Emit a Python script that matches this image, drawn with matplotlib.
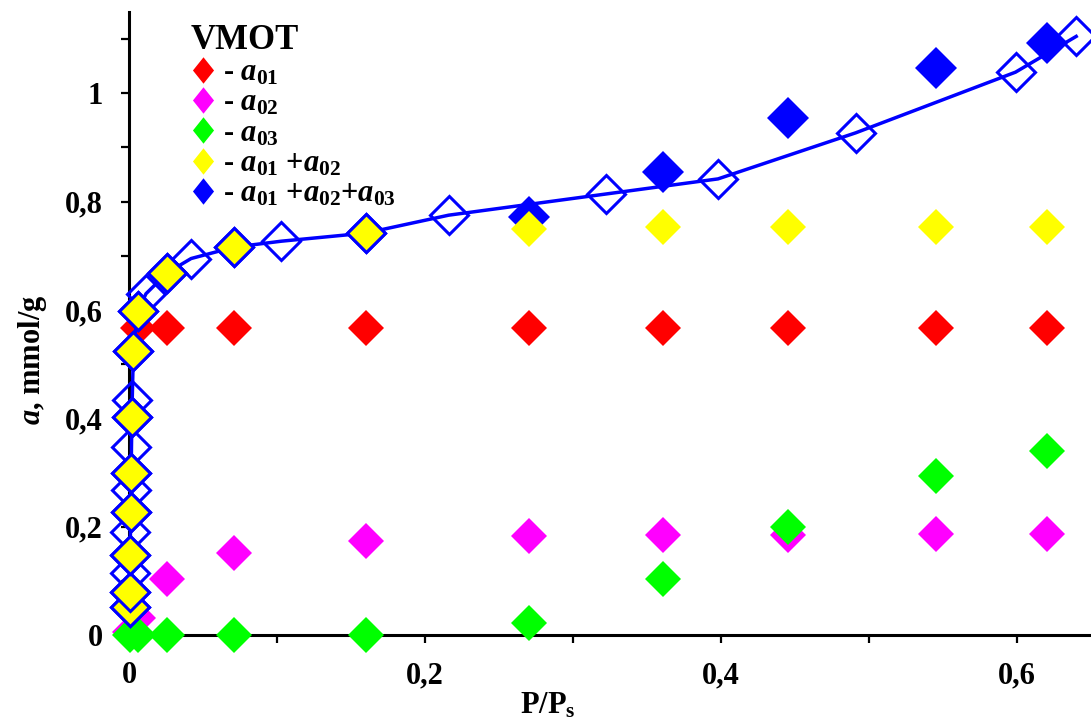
import numpy as np
import matplotlib.pyplot as plt
from matplotlib.lines import Line2D
from matplotlib.ticker import MultipleLocator, FuncFormatter

plt.rcParams['font.family'] = ['Liberation Serif', 'DejaVu Serif']
plt.rcParams['font.weight'] = 'bold'
plt.rcParams['axes.labelweight'] = 'bold'
plt.rcParams['mathtext.fontset'] = 'custom'
plt.rcParams['mathtext.rm'] = 'Liberation Serif:bold'
plt.rcParams['mathtext.it'] = 'Liberation Serif:italic:bold'
plt.rcParams['mathtext.bf'] = 'Liberation Serif:bold'

# relative pressure and adsorption values (mmol/g)
x_calc = [0.006, 0.026, 0.071, 0.160, 0.270, 0.361, 0.445, 0.545, 0.620]
a01 = [0.566, 0.566, 0.566, 0.566, 0.566, 0.566, 0.566, 0.566, 0.566]

x_a02 = [0.001, 0.006, 0.026, 0.071, 0.160, 0.270, 0.361, 0.445, 0.545, 0.620]
a02 = [0.005, 0.031, 0.103, 0.151, 0.173, 0.183, 0.184, 0.185, 0.187, 0.186]

x_a03 = [0.001, 0.006, 0.026, 0.071, 0.160, 0.270, 0.361, 0.445, 0.545, 0.620]
a03 = [0.0, 0.0, 0.0, 0.0, 0.0, 0.022, 0.103, 0.200, 0.293, 0.340]

x_sum12 = [0.0005, 0.0007, 0.001, 0.0012, 0.0015, 0.002, 0.003,
           0.006, 0.026, 0.071, 0.160, 0.270, 0.361, 0.445, 0.545, 0.620]
a_sum12 = [0.052, 0.080, 0.148, 0.227, 0.300, 0.403, 0.524,
           0.598, 0.669, 0.716, 0.742, 0.749, 0.753, 0.753, 0.753, 0.753]

x_sum123 = [0.270, 0.361, 0.445, 0.545, 0.620]
a_sum123 = [0.772, 0.855, 0.954, 1.047, 1.092]

# experimental isotherm
x_exp = [0.0005, 0.0006, 0.0007, 0.0008, 0.001, 0.0012, 0.0013, 0.0015,
         0.0017, 0.002, 0.0022, 0.003, 0.006, 0.0115, 0.026, 0.042, 0.071,
         0.103, 0.160, 0.216, 0.322, 0.398, 0.491, 0.599, 0.640]
a_exp = [0.052, 0.080, 0.114, 0.148, 0.190, 0.227, 0.268, 0.300, 0.347,
         0.403, 0.434, 0.524, 0.598, 0.630, 0.669, 0.695, 0.716, 0.727,
         0.742, 0.775, 0.814, 0.842, 0.927, 1.039, 1.105]

blue = '#0000ff'
red = '#ff0000'
magenta = '#ff00ff'
green = '#00ff00'
yellow = '#ffff00'

fig = plt.figure(figsize=(10.91, 7.25), dpi=100)
ax = fig.add_axes([0.1182, 0.1241, 0.8818, 0.8593])

ax.plot(x_sum123, a_sum123, 'D', color=blue, ms=21.5, mew=0, clip_on=False, zorder=3)
ax.plot(x_calc, a01, 'D', color=red, ms=18, mew=0, clip_on=False, zorder=4)
ax.plot(x_a02, a02, 'D', color=magenta, ms=18, mew=0, clip_on=False, zorder=5)
ax.plot(x_a03, a03, 'D', color=green, ms=18, mew=0, clip_on=False, zorder=6)

xs = np.array(x_sum12)
ys = np.array(a_sum12)
near = xs < 0.2
ax.plot(xs[~near], ys[~near], 'D', color=yellow, ms=18, mew=0, clip_on=False, zorder=7)

ax.plot(x_exp, a_exp, '-', color=blue, lw=2.5, clip_on=False, zorder=8)
ax.plot(x_exp, a_exp, 'D', mfc='none', mec=blue, ms=19.5, mew=2.2,
        clip_on=False, zorder=8)
# calculated a01+a02 points lying on the isotherm
ax.plot(xs[near], ys[near], 'D', mfc=yellow, mec=blue, ms=19.5, mew=2.2,
        clip_on=False, zorder=9)

ax.set_xlim(0, 0.65)
ax.set_ylim(0, 1.15)

for side in ['top', 'right']:
    ax.spines[side].set_visible(False)
for side in ['left', 'bottom']:
    ax.spines[side].set_linewidth(2.2)
    ax.spines[side].set_zorder(2)

ax.xaxis.set_major_locator(MultipleLocator(0.2))
ax.xaxis.set_minor_locator(MultipleLocator(0.1))
ax.yaxis.set_major_locator(MultipleLocator(0.2))
ax.yaxis.set_minor_locator(MultipleLocator(0.1))
fmt = FuncFormatter(lambda v, p: ('%g' % round(v, 2)).replace('.', ','))
ax.xaxis.set_major_formatter(fmt)
ax.yaxis.set_major_formatter(fmt)
ax.tick_params(which='both', direction='out', length=6, width=1.6,
               labelsize=22, pad=13)

ax.set_xlabel(r'P/P$_\mathrm{s}$', fontsize=22)
ax.set_ylabel(r'$a$, mmol/g', fontsize=22)
ax.xaxis.set_label_coords(0.4356, -0.09)
ax.yaxis.set_label_coords(-0.083, 0.441)

# legend
diamond = [(0, 1), (0.8, 0), (0, -1), (-0.8, 0), (0, 1)]
handles = [Line2D([], [], ls='none', marker=diamond, ms=19, mew=0, color=c)
           for c in [red, magenta, green, yellow, blue]]
labels = [r'- $a_{01}$', r'- $a_{02}$', r'- $a_{03}$',
          r'- $a_{01}$ +$a_{02}$', r'- $a_{01}$ +$a_{02}$+$a_{03}$']
leg = ax.legend(handles, labels, title='VMOT', loc='upper left',
                bbox_to_anchor=(0.064, 0.98), frameon=False, fontsize=22,
                title_fontproperties={'size': 25, 'weight': 'bold'},
                alignment='left', handlelength=0.8, handletextpad=0.25,
                labelspacing=0.04, borderpad=0, borderaxespad=0)

fig.savefig('out.png', dpi=100)
